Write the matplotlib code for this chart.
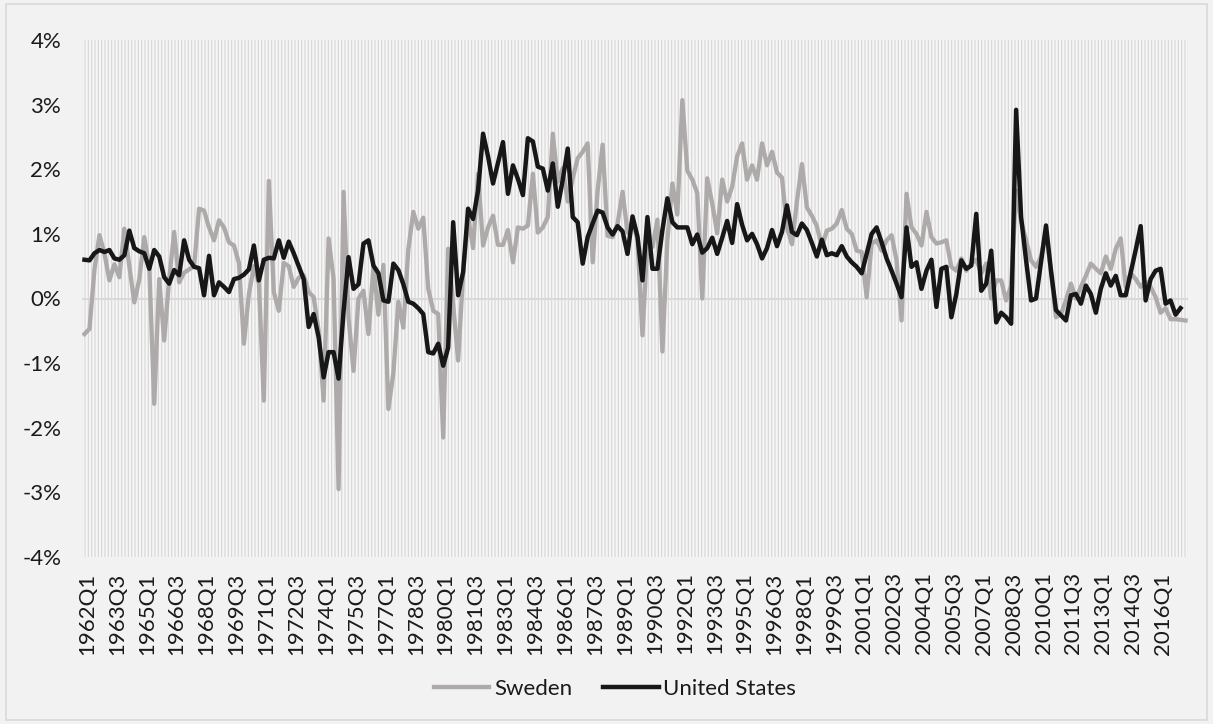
import matplotlib
matplotlib.use('Agg')
import matplotlib.pyplot as plt
from matplotlib.patches import Rectangle
from matplotlib.ticker import FuncFormatter
from matplotlib.transforms import ScaledTranslation

# quarterly values in percent, first quarter is 1962Q1
sweden = [-0.55, -0.47, 0.45, 0.98, 0.70, 0.28, 0.53, 0.33, 1.08, 0.50,
          -0.06, 0.30, 0.95, 0.50, -1.63, 0.30, -0.65, 0.30, 1.03, 0.25,
          0.40, 0.45, 0.50, 1.39, 1.36, 1.10, 0.90, 1.21, 1.10, 0.87,
          0.82, 0.55, -0.70, 0.07, 0.50, 0.23, -1.58, 1.82, 0.10, -0.19,
          0.55, 0.50, 0.18, 0.32, 0.36, 0.10, 0.02, -0.50, -1.58, 0.93,
          0.30, -2.95, 1.65, -0.30, -1.12, 0.00, 0.12, -0.55, 0.50, -0.25,
          0.52, -1.71, -1.15, -0.05, -0.45, 0.76, 1.34, 1.08, 1.25, 0.15,
          -0.19, -0.24, -2.15, 0.77, -0.10, -0.96, 0.39, 1.25, 0.78, 1.93,
          0.82, 1.10, 1.28, 0.83, 0.83, 1.06, 0.56, 1.10, 1.08, 1.13,
          1.93, 1.02, 1.10, 1.26, 2.55, 1.81, 2.02, 1.50, 1.86, 2.17,
          2.27, 2.40, 0.56, 1.67, 2.38, 0.97, 0.95, 1.16, 1.65, 1.02,
          1.20, 0.90, -0.57, 0.90, 0.80, 1.22, -0.82, 0.90, 1.78, 1.30,
          3.07, 1.98, 1.84, 1.63, 0.00, 1.86, 1.47, 1.01, 1.84, 1.50,
          1.73, 2.20, 2.40, 1.84, 2.06, 1.84, 2.40, 2.06, 2.27, 1.95,
          1.87, 1.10, 0.84, 1.50, 2.08, 1.41, 1.28, 1.12, 0.80, 1.05,
          1.08, 1.16, 1.37, 1.08, 1.00, 0.74, 0.72, 0.02, 0.85, 0.90,
          0.74, 0.90, 0.98, 0.59, -0.34, 1.62, 1.10, 1.00, 0.82, 1.34,
          0.95, 0.85, 0.87, 0.90, 0.49, 0.43, 0.62, 0.43, 0.54, 0.60,
          0.39, 0.54, 0.00, 0.28, 0.28, -0.03, 0.20, 1.67, 1.20, 0.90,
          0.59, 0.49, 0.65, 1.05, 0.40, -0.29, -0.24, -0.03, 0.23, 0.00,
          0.18, 0.35, 0.54, 0.46, 0.39, 0.65, 0.46, 0.77, 0.93, 0.18,
          0.39, 0.30, 0.18, 0.26, 0.18, 0.02, -0.22, -0.15, -0.32, -0.32,
          -0.33, -0.34]

united_states = [0.60, 0.59, 0.70, 0.75, 0.72, 0.75, 0.62, 0.60, 0.67, 1.05,
                 0.78, 0.73, 0.70, 0.46, 0.75, 0.65, 0.33, 0.23, 0.44, 0.36,
                 0.90, 0.60, 0.49, 0.47, 0.05, 0.66, 0.05, 0.25, 0.18, 0.10,
                 0.30, 0.32, 0.37, 0.45, 0.82, 0.28, 0.60, 0.63, 0.62, 0.90,
                 0.63, 0.88, 0.70, 0.50, 0.30, -0.44, -0.24, -0.60, -1.22, -0.83,
                 -0.83, -1.24, -0.20, 0.64, 0.15, 0.22, 0.85, 0.90, 0.51, 0.39,
                 -0.03, -0.05, 0.54, 0.44, 0.22, -0.05, -0.08, -0.15, -0.24, -0.83,
                 -0.85, -0.70, -1.04, -0.76, 1.18, 0.05, 0.41, 1.39, 1.23, 1.67,
                 2.55, 2.20, 1.78, 2.10, 2.42, 1.62, 2.06, 1.85, 1.60, 2.48,
                 2.43, 2.04, 2.01, 1.67, 2.09, 1.42, 1.84, 2.32, 1.26, 1.18,
                 0.54, 0.95, 1.16, 1.36, 1.33, 1.10, 0.99, 1.12, 1.04, 0.69,
                 1.27, 0.96, 0.28, 1.26, 0.46, 0.46, 1.06, 1.55, 1.18, 1.10,
                 1.10, 1.10, 0.84, 0.99, 0.71, 0.78, 0.94, 0.69, 0.94, 1.20,
                 0.86, 1.46, 1.14, 0.90, 1.00, 0.84, 0.62, 0.78, 1.06, 0.81,
                 1.03, 1.44, 1.03, 0.98, 1.16, 1.06, 0.86, 0.65, 0.91, 0.67,
                 0.70, 0.67, 0.81, 0.65, 0.56, 0.49, 0.39, 0.69, 1.00, 1.10,
                 0.87, 0.62, 0.43, 0.23, 0.02, 1.10, 0.49, 0.56, 0.15, 0.43,
                 0.60, -0.13, 0.46, 0.49, -0.29, 0.07, 0.59, 0.46, 0.51, 1.31,
                 0.12, 0.23, 0.74, -0.37, -0.22, -0.29, -0.39, 2.92, 1.26, 0.59,
                 -0.03, 0.00, 0.56, 1.13, 0.43, -0.18, -0.26, -0.34, 0.05, 0.07,
                 -0.08, 0.20, 0.07, -0.22, 0.15, 0.39, 0.20, 0.35, 0.05, 0.05,
                 0.40, 0.75, 1.12, -0.03, 0.30, 0.43, 0.46, -0.08, -0.03, -0.25,
                 -0.15]

tick_labels = ['1962Q1', '1963Q3', '1965Q1', '1966Q3', '1968Q1', '1969Q3', '1971Q1',
               '1972Q3', '1974Q1', '1975Q3', '1977Q1', '1978Q3', '1980Q1', '1981Q3',
               '1983Q1', '1984Q3', '1986Q1', '1987Q3', '1989Q1', '1990Q3', '1992Q1',
               '1993Q3', '1995Q1', '1996Q3', '1998Q1', '1999Q3', '2001Q1', '2002Q3',
               '2004Q1', '2005Q3', '2007Q1', '2008Q3', '2010Q1', '2011Q3', '2013Q1',
               '2014Q3', '2016Q1']

plt.rcParams['font.family'] = ['Lato', 'DejaVu Sans']
plt.rcParams['hatch.linewidth'] = 0.8
text_color = '#1a1a1a'
font_size = 16

fig = plt.figure(figsize=(12.13, 7.24), dpi=100, facecolor='#f2f2f2')
fig.patches.append(Rectangle((0.005, 0.006), 0.99, 0.988, transform=fig.transFigure,
                             fill=False, edgecolor='#d9d9d9', linewidth=1.2))

ax = fig.add_axes([82 / 1213, 1 - 557 / 724, 1106 / 1213, 517 / 724])
ax.set_facecolor('#f6f6f6')
ax.add_patch(Rectangle((0, 0), 1, 1, transform=ax.transAxes, facecolor='none',
                       edgecolor='#d6d6d6', hatch='|||||', linewidth=0, zorder=0))

ax.axhline(0, color='#d9d9d9', linewidth=1.5, zorder=1)
ax.plot(range(len(sweden)), sweden, color='#aeaaaa', linewidth=3.1, label='Sweden',
        solid_joinstyle='round', zorder=2)
ax.plot(range(len(united_states)), united_states, color='#171717', linewidth=3.2,
        label='United States', solid_joinstyle='round', zorder=3)

ax.set_xlim(-0.5, len(sweden) - 0.5)
ax.set_ylim(-4, 4)
ax.set_yticks(range(-4, 5))
ax.yaxis.set_major_formatter(FuncFormatter(lambda v, p: '%d%%' % v))
ax.set_xticks(range(0, 6 * len(tick_labels), 6))
ax.set_xticklabels(tick_labels, rotation=90, va='top', ha='center')
ax.tick_params(axis='both', length=0, labelsize=font_size, colors=text_color)
ax.tick_params(axis='y', pad=15)
ax.tick_params(axis='x', pad=11)
shift = ScaledTranslation(2.5 / 100, 0, fig.dpi_scale_trans)
for lab in ax.get_xticklabels():
    lab.set_transform(lab.get_transform() + shift)
for s in ax.spines.values():
    s.set_visible(False)

leg = fig.legend(loc='center', bbox_to_anchor=(0.507, 0.048), ncol=2, frameon=False,
                 fontsize=font_size, handlelength=2.5, handletextpad=0.2, columnspacing=1.4)
for t in leg.get_texts():
    t.set_color(text_color)

fig.savefig('out.png', dpi=100, facecolor=fig.get_facecolor())
